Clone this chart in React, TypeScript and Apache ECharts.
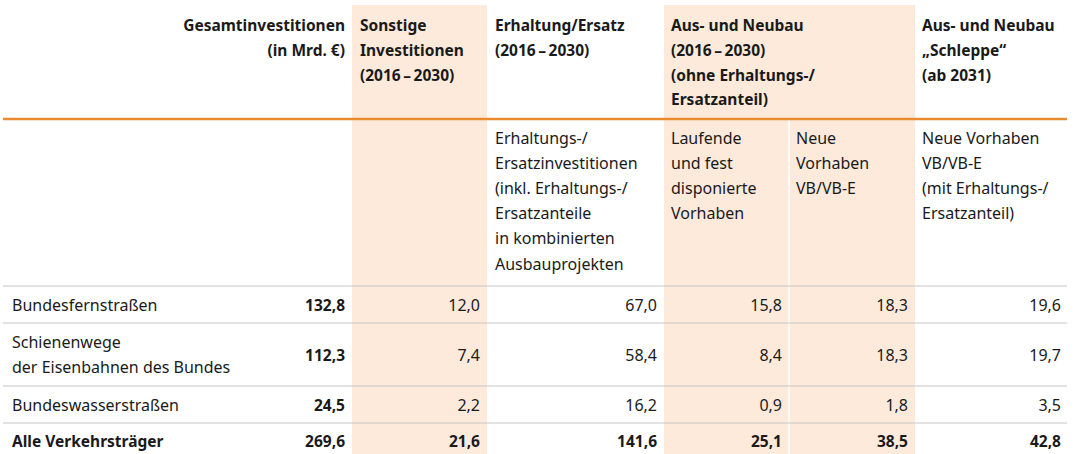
import React, { useEffect, useRef } from "react";
import * as echarts from "echarts";

// ---- data ----
const rowLabels: string[][] = [
  ["Bundesfernstraßen"],
  ["Schienenwege", "der Eisenbahnen des Bundes"],
  ["Bundeswasserstraßen"],
  ["Alle Verkehrsträger"],
];
const gesamt = [132.8, 112.3, 24.5, 269.6];
const sonstige = [12.0, 7.4, 2.2, 21.6];
const erhaltung = [67.0, 58.4, 16.2, 141.6];
const laufende = [15.8, 8.4, 0.9, 25.1];
const neue = [18.3, 18.3, 1.8, 38.5];
const schleppe = [19.6, 19.7, 3.5, 42.8];

const D = "\u2009\u2013\u2009";
const headerTexts: string[][] = [
  ["Gesamtinvestitionen", "(in Mrd. €)"],
  ["Sonstige", "Investitionen", `(2016${D}2030)`],
  ["Erhaltung/Ersatz", `(2016${D}2030)`],
  ["Aus- und Neubau", `(2016${D}2030)`, "(ohne Erhaltungs-/", "Ersatzanteil)"],
  ["Aus- und Neubau", "„Schleppe“", "(ab 2031)"],
];
const subHeaderTexts: string[][] = [
  ["Erhaltungs-/", "Ersatzinvestitionen", "(inkl. Erhaltungs-/", "Ersatzanteile", "in kombinierten", "Ausbauprojekten"],
  ["Laufende", "und fest", "disponierte", "Vorhaben"],
  ["Neue", "Vorhaben", "VB/VB-E"],
  ["Neue Vorhaben", "VB/VB-E", "(mit Erhaltungs-/", "Ersatzanteil)"],
];

// ---- layout ----
const FONT = '"Noto Sans", sans-serif';
const FS = 16;
const FS_BOLD = 15.5;
const TXT = "#1a1a1a";
const SHADE = "#FDEADB";
const ORANGE = "#E98B2E";
const GREY = "#C6C6C6";

const shadeSpans = [
  [352, 487],
  [664, 915],
];
const dividerX = 789;
const lineLeft = 3;
const lineRight = 1067;
const orangeY = 119;
const headerX = [345, 360, 495, 671, 922];
const headerAlign = ["right", "left", "left", "left", "left"];
const headerY0 = 25;
const headerLH = 24.8;
const subX = [495, 671, 796, 922];
const subY0 = 137.5;
const subLH = 25.2;
const rowLines = [286, 323, 386, 423];
const rowCenters = [305, 354.5, 405, 441];
const rowLH = 25;
const labelX = 12;
const valueRight = [345, 480, 657, 782, 908, 1061];

const fmt = (v: number) => v.toFixed(1).replace(".", ",");

function textEl(text: string, x: number, y: number, align: string, bold: boolean) {
  return {
    type: "text",
    silent: true,
    z: 10,
    style: {
      text,
      x,
      y,
      textAlign: align,
      textVerticalAlign: "middle",
      font: bold ? `bold ${FS_BOLD}px ${FONT}` : `${FS}px ${FONT}`,
      fill: TXT,
    },
  };
}

export default function App() {
  const ref = useRef<HTMLDivElement>(null);
  useEffect(() => {
    document.body.style.margin = "0";
    if (!ref.current) return;
    const chart = echarts.init(ref.current, null, { renderer: "svg" });
    const els: any[] = [];
    // shading
    shadeSpans.forEach(([a, b]) => {
      els.push({ type: "rect", silent: true, z: 1, shape: { x: a, y: 5, width: b - a, height: 454 - 5 }, style: { fill: SHADE } });
    });
    // divider
    els.push({ type: "line", silent: true, z: 3, shape: { x1: dividerX, y1: orangeY, x2: dividerX, y2: 454 }, style: { stroke: "#ffffff", lineWidth: 1.5 } });
    // orange line
    els.push({ type: "line", silent: true, z: 4, shape: { x1: lineLeft, y1: orangeY, x2: lineRight, y2: orangeY }, style: { stroke: ORANGE, lineWidth: 2.5 } });
    // grey row lines
    rowLines.forEach((y) => {
      els.push({ type: "line", silent: true, z: 4, shape: { x1: lineLeft, y1: y, x2: lineRight, y2: y }, style: { stroke: GREY, lineWidth: 1 } });
    });
    // headers
    headerTexts.forEach((lines, i) => {
      lines.forEach((t, j) => els.push(textEl(t, headerX[i], headerY0 + j * headerLH, headerAlign[i], true)));
    });
    subHeaderTexts.forEach((lines, i) => {
      lines.forEach((t, j) => els.push(textEl(t, subX[i], subY0 + j * subLH, "left", false)));
    });
    // rows
    const cols = [gesamt, sonstige, erhaltung, laufende, neue, schleppe];
    rowLabels.forEach((lines, r) => {
      const isTotal = r === rowLabels.length - 1;
      const c = rowCenters[r];
      const top = c - ((lines.length - 1) * rowLH) / 2;
      lines.forEach((t, j) => els.push(textEl(t, labelX, top + j * rowLH, "left", isTotal)));
      cols.forEach((col, k) => {
        els.push(textEl(fmt(col[r]), valueRight[k], c, "right", isTotal || k === 0));
      });
    });
    chart.setOption({ animation: false, graphic: { elements: els } });
    return () => chart.dispose();
  }, []);
  return <div ref={ref} style={{ width: 1076, height: 454 }} />;
}
